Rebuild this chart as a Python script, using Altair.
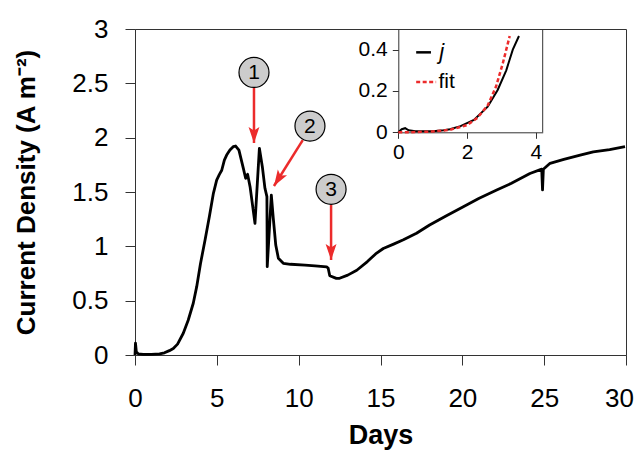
import altair as alt
import pandas as pd

# ---------------- data ----------------
days = [0.0, 0.03, 0.08, 0.2, 0.5, 1.0, 1.5, 1.8, 2.1, 2.34, 2.6, 2.95, 3.25, 3.56,
        3.77, 4.0, 4.28, 4.55, 4.79, 4.99, 5.15, 5.3, 5.46, 5.6, 5.8, 6.0, 6.15,
        6.35, 6.62, 6.76, 6.88, 7.03, 7.33, 7.6, 7.78, 7.94, 8.06, 8.08, 8.33,
        8.45, 8.6, 8.76, 9.06, 9.5, 10.39, 11.0, 11.71, 11.8, 11.9, 12.3, 12.5,
        13.0, 13.55, 14.2, 14.7, 15.17, 15.8, 16.4, 17.2, 18.0, 19.0, 20.06, 21.0,
        22.1, 23.0, 24.13, 24.85, 24.9, 24.95, 25.36, 26.2, 27.2, 28.0, 29.0, 29.94]
current = [0.0, 0.11, 0.03, 0.01, 0.005, 0.005, 0.01, 0.02, 0.04, 0.06, 0.10, 0.2,
           0.32, 0.476, 0.629, 0.84, 1.058, 1.28, 1.488, 1.61, 1.66, 1.70, 1.794,
           1.84, 1.886, 1.917, 1.923, 1.886, 1.718, 1.626, 1.663, 1.549, 1.212,
           1.902, 1.733, 1.534, 1.457, 0.813, 1.472, 1.258, 1.012, 0.89, 0.844,
           0.835, 0.828, 0.82, 0.81, 0.80, 0.73, 0.705, 0.706, 0.735, 0.78, 0.86,
           0.93, 0.98, 1.02, 1.06, 1.12, 1.196, 1.28, 1.365, 1.44, 1.518, 1.58,
           1.67, 1.71, 1.52, 1.71, 1.764, 1.80, 1.84, 1.87, 1.89, 1.917]

inset_j_days = [0.0, 0.1, 0.2, 0.3, 0.5, 1.0, 1.32, 1.5, 1.81, 2.2, 2.6, 2.89, 3.14, 3.33, 3.51]
inset_j_vals = [0.0, 0.015, 0.02, 0.01, 0.005, 0.005, 0.01, 0.015, 0.03, 0.06, 0.124, 0.205, 0.30, 0.40, 0.466]
fit_days = [0.0, 0.5, 1.0, 1.5, 2.0, 2.3, 2.6, 2.84, 3.04, 3.24]
fit_vals = [0.0, 0.001, 0.004, 0.012, 0.035, 0.07, 0.13, 0.22, 0.334, 0.466]

x_ticks = [0, 5, 10, 15, 20, 25, 30]
y_ticks = [0, 0.5, 1, 1.5, 2, 2.5, 3]
inset_x_ticks = [0, 2, 4]
inset_y_ticks = [0, 0.2, 0.4]

labels = ["1", "2", "3"]
legend_names = ["j", "fit"]

# annotation geometry (data units of the main axes)
ann_cx = [7.27, 10.69, 11.98]
ann_cy = [2.60, 2.107, 1.525]
arr_x0 = [7.27, 10.25, 11.98]
arr_y0 = [2.457, 1.978, 1.38]
arr_x1 = [7.27, 8.49, 11.98]
arr_y1 = [1.951, 1.555, 0.874]
arr_ang = [0, 32, 0]

FONT = "Liberation Sans, Arial, sans-serif"
RED = "#ec2b2b"
FRAME = "#333333"

W, H = 491, 326

main_df = pd.DataFrame({"days": days, "j": current})
ann_df = pd.DataFrame({"label": labels, "cx": ann_cx, "cy": ann_cy,
                       "x0": arr_x0, "y0": arr_y0, "x1": arr_x1, "y1": arr_y1,
                       "ang": arr_ang})

xs = alt.Scale(domain=[0, 30], nice=False, zero=False)
ys = alt.Scale(domain=[0, 3], nice=False, zero=False)

xaxis = alt.Axis(values=x_ticks, title="Days", orient="bottom", format="~g",
                 labelFont=FONT, labelFontSize=26, titleFont=FONT, titleFontSize=27,
                 titleFontWeight="bold", tickSize=10, labelPadding=20,
                 labelOffset={"condition": {"test": "datum.value == 30", "value": -7},
                              "value": 0},
                 titlePadding=11, domainColor=FRAME, tickColor=FRAME,
                 labelColor="black", titleColor="black", grid=False, labelFlush=False)
yaxis = alt.Axis(values=y_ticks, title="Current Density (A m⁻²)", format="~g",
                 orient="left", labelFont=FONT, labelFontSize=26, titleFont=FONT,
                 titleFontSize=26, titleFontWeight="bold", tickSize=10, labelPadding=17,
                 titlePadding=32, domainColor=FRAME, tickColor=FRAME,
                 labelColor="black", titleColor="black", grid=False, labelFlush=False)

curve = alt.Chart(main_df).mark_line(color="black", strokeWidth=2.8, strokeJoin="round").encode(
    x=alt.X("days:Q", scale=xs, axis=xaxis),
    y=alt.Y("j:Q", scale=ys, axis=yaxis),
    order="days:Q",
)

base_ann = alt.Chart(ann_df)
shafts = base_ann.mark_rule(color=RED, strokeWidth=2.5).encode(
    x=alt.X("x0:Q", scale=xs), y=alt.Y("y0:Q", scale=ys), x2="x1:Q", y2="y1:Q")
heads = base_ann.mark_point(shape="M0,0L-0.34,-1L0,-0.78L0.34,-1Z", size=1024,
                            filled=True, color=RED, opacity=1).encode(
    x=alt.X("x1:Q", scale=xs), y=alt.Y("y1:Q", scale=ys),
    angle=alt.Angle("ang:Q", scale=None))
circles = base_ann.mark_point(shape="circle", size=900, fill="#cccccc", stroke="black",
                              strokeWidth=1.2, opacity=1, fillOpacity=1).encode(
    x=alt.X("cx:Q", scale=xs), y=alt.Y("cy:Q", scale=ys))
nums = base_ann.mark_text(font=FONT, fontSize=21, color="black", baseline="middle",
                          align="center", dy=1).encode(
    x=alt.X("cx:Q", scale=xs), y=alt.Y("cy:Q", scale=ys), text="label:N")

main = alt.layer(curve, shafts, heads, circles, nums)

# ---------------- inset ----------------
IX0, IX1 = 263.3, 407.7   # inset plot range inside main plot (px)
IY0, IY1 = 103.3, 0
ixs = alt.Scale(domain=[0, 4.2], range=[IX0, IX1], nice=False, zero=False)
iys = alt.Scale(domain=[0, 0.5], range=[IY0, IY1], nice=False, zero=False)
ixaxis = alt.Axis(values=inset_x_ticks, title=None, orient="bottom", offset=-(H - IY0),
                  format="~g", labelFont=FONT, labelFontSize=21, tickSize=6,
                  labelPadding=3, domainColor=FRAME, tickColor=FRAME,
                  labelColor="black", grid=False, labelFlush=False)
iyaxis = alt.Axis(values=inset_y_ticks, title=None, orient="left", offset=-IX0,
                  format="~g", labelFont=FONT, labelFontSize=21, tickSize=6,
                  labelPadding=5, domainColor=FRAME, tickColor=FRAME,
                  labelColor="black", grid=False, labelFlush=False)

jdf = pd.DataFrame({"d": inset_j_days, "v": inset_j_vals})
fdf = pd.DataFrame({"d": fit_days, "v": fit_vals})

ij = alt.Chart(jdf).mark_line(color="black", strokeWidth=2).encode(
    x=alt.X("d:Q", scale=ixs, axis=ixaxis), y=alt.Y("v:Q", scale=iys, axis=iyaxis),
    order="d:Q")
ifit = alt.Chart(fdf).mark_line(color=RED, strokeWidth=2.5, strokeDash=[4, 2.5]).encode(
    x=alt.X("d:Q", scale=ixs), y=alt.Y("v:Q", scale=iys), order="d:Q")

border = alt.Chart(pd.DataFrame({"a": [0]})).mark_rule(color=FRAME, strokeWidth=1).encode(
    x=alt.datum(4.2, scale=ixs), y=alt.datum(0, scale=iys), y2=alt.datum(0.5))

# hand-made legend inside the inset (positions in inset data units)
leg_df = pd.DataFrame({"name": legend_names, "lx0": [0.52, 0.52], "lx1": [0.95, 1.10],
                       "ly": [0.387, 0.244], "tx": [1.19, 1.17]})
leg_j = alt.Chart(leg_df).transform_filter("datum.name == 'j'").mark_rule(
    color="black", strokeWidth=2.5).encode(
    x=alt.X("lx0:Q", scale=ixs), x2="lx1:Q", y=alt.Y("ly:Q", scale=iys))
leg_f = alt.Chart(leg_df).transform_filter("datum.name == 'fit'").mark_rule(
    color=RED, strokeWidth=2.5, strokeDash=[4, 2.5]).encode(
    x=alt.X("lx0:Q", scale=ixs), x2="lx1:Q", y=alt.Y("ly:Q", scale=iys))
leg_tj = alt.Chart(leg_df).transform_filter("datum.name == 'j'").mark_text(
    font=FONT, fontSize=22, fontStyle="italic", align="left", baseline="middle",
    color="black").encode(x=alt.X("tx:Q", scale=ixs), y=alt.Y("ly:Q", scale=iys),
                          text="name:N")
leg_tf = alt.Chart(leg_df).transform_filter("datum.name == 'fit'").mark_text(
    font=FONT, fontSize=21, align="left", baseline="middle",
    color="black").encode(x=alt.X("tx:Q", scale=ixs), y=alt.Y("ly:Q", scale=iys),
                          text="name:N")

inset = alt.layer(ij, ifit, border, leg_j, leg_f, leg_tj, leg_tf)

chart = alt.layer(main, inset).resolve_scale(x="independent", y="independent").properties(
    width=W, height=H,
    autosize=alt.AutoSizeParams(type="none"),
    padding={"left": 127, "top": 21, "right": 8, "bottom": 95},
    background="white",
).configure_view(stroke=FRAME, strokeWidth=1)

chart.save("out.html", embed_options={"renderer": "svg", "actions": False})
